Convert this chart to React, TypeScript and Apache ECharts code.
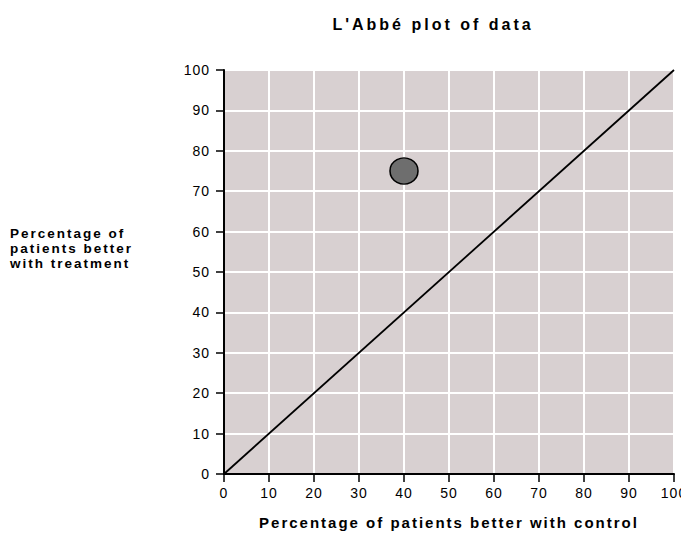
import React, { useEffect, useRef } from "react";
import * as echarts from "echarts";

const titleText = "L'Abbé plot of data";
const xAxisTitle = "Percentage of patients better with control";
const yAxisTitle = "Percentage of\npatients better\nwith treatment";
const axisMin = 0;
const axisMax = 100;
const axisInterval = 10;
// study point: [control %, treatment %]
const studyPoints: [number, number][] = [[40, 75]];
// line of no effect
const equalityLine: [number, number][] = [[0, 0], [100, 100]];

const FONT = "'Liberation Sans', Arial, Helvetica, sans-serif";

export default function App() {
  const ref = useRef<HTMLDivElement>(null);
  useEffect(() => {
    if (!ref.current) return;
    const chart = echarts.init(ref.current, undefined, { renderer: "svg" });
    chart.setOption({
      animation: false,
      backgroundColor: "#ffffff",
      textStyle: { fontFamily: FONT },
      title: [
        {
          text: titleText,
          left: 425,
          top: 8,
          padding: 0,
          textAlign: "center",
          textStyle: { fontFamily: FONT, fontWeight: "bold", fontSize: 16, color: "#000" },
        },
        {
          text: yAxisTitle,
          left: 2,
          top: 218,
          padding: 0,
          textStyle: { fontFamily: FONT, fontWeight: "bold", fontSize: 13.5, lineHeight: 15, color: "#000" },
        },
      ],
      grid: { left: 216, right: 23, top: 62, bottom: 67, containLabel: false, show: true, backgroundColor: "#d8d0d1", borderWidth: 0 },
      xAxis: {
        type: "value",
        min: axisMin,
        max: axisMax,
        interval: axisInterval,
        name: xAxisTitle,
        nameLocation: "middle",
        nameGap: 41,
        nameTextStyle: { fontFamily: FONT, fontWeight: "bold", fontSize: 15, color: "#000" },
        axisLine: { show: true, onZero: false, lineStyle: { color: "#000", width: 2 } },
        axisTick: { show: true, length: 8, inside: false, lineStyle: { color: "#000", width: 1.5 } },
        axisLabel: { fontFamily: FONT, fontSize: 14, color: "#000", margin: 12 },
        splitLine: { show: true, lineStyle: { color: "#ffffff", width: 2 } },
      },
      yAxis: {
        type: "value",
        min: axisMin,
        max: axisMax,
        interval: axisInterval,
        axisLine: { show: true, onZero: false, lineStyle: { color: "#000", width: 2 } },
        axisTick: { show: true, length: 8, inside: false, lineStyle: { color: "#000", width: 1.5 } },
        axisLabel: { fontFamily: FONT, fontSize: 14, color: "#000", margin: 14 },
        splitLine: { show: true, lineStyle: { color: "#ffffff", width: 2 } },
      },
      series: [
        {
          type: "line",
          data: equalityLine,
          showSymbol: false,
          symbol: "none",
          lineStyle: { color: "#000", width: 1.8 },
          silent: true,
        },
        {
          type: "scatter",
          data: studyPoints,
          symbol: "circle",
          symbolSize: [28, 26],
          itemStyle: { color: "#6e6e6e", borderColor: "#000", borderWidth: 1.5, opacity: 1 },
        },
      ],
    });
    return () => chart.dispose();
  }, []);
  return (
    <>
      <style>{
        "#chart text{letter-spacing:1px}" +
        "#chart text[style*='16px']{letter-spacing:3px}" +
        "#chart text[style*='15px']{letter-spacing:2px}" +
        "#chart text[style*='13.5px']{letter-spacing:2px}"
      }</style>
      <div id="chart" ref={ref} style={{ width: 689, height: 533 }} />
    </>
  );
}
